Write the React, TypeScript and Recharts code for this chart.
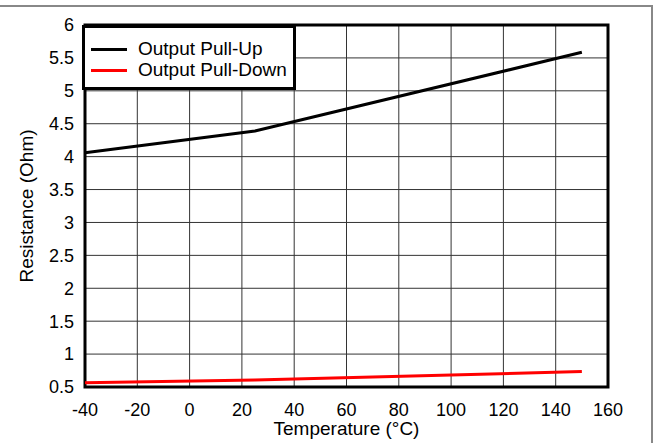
import React from 'react';
import { LineChart, Line, XAxis, YAxis, CartesianGrid, Legend, ReferenceArea } from 'recharts';

const temperatures = [-40, 25, 150];
const pullUp = [4.06, 4.39, 5.585];
const pullDown = [0.565, 0.605, 0.735];
const xTicks = [-40, -20, 0, 20, 40, 60, 80, 100, 120, 140, 160];
const yTicks = [0.5, 1, 1.5, 2, 2.5, 3, 3.5, 4, 4.5, 5, 5.5, 6];
const seriesNames = ['Output Pull-Up', 'Output Pull-Down'];
const seriesColors = ['#000000', '#ff0000'];

const data = temperatures.map((t, i) => ({ t, up: pullUp[i], down: pullDown[i] }));

const FONT = '"Liberation Sans", Arial, sans-serif';

const LegendBox = () => (
  <div
    style={{
      boxSizing: 'border-box',
      width: 214,
      height: 65,
      background: '#fff',
      border: '3px solid #000',
      fontFamily: FONT,
      fontSize: 19,
      color: '#000',
      position: 'relative',
    }}
  >
    {seriesNames.map((name, i) => (
      <div key={name} style={{ position: 'absolute', left: 6, top: 10 + i * 21, height: 22, display: 'flex', alignItems: 'center' }}>
        <div style={{ width: 36, height: 3, background: seriesColors[i] }} />
        <span style={{ marginLeft: 11, lineHeight: '22px', whiteSpace: 'nowrap' }}>{name}</span>
      </div>
    ))}
  </div>
);

export default function App() {
  return (
    <div style={{ position: 'absolute', left: 0, top: 0, width: 656, height: 443, background: '#fff' }}>
      <div style={{ position: 'absolute', left: 0, top: 5, width: 653, height: 2, background: '#888' }} />
      <div style={{ position: 'absolute', left: 651, top: 5, width: 2, height: 438, background: '#888' }} />
      <LineChart
        width={656}
        height={443}
        data={data}
        margin={{ top: 25, right: 48, bottom: 16, left: 25 }}
        style={{ fontFamily: FONT }}
      >
        <CartesianGrid stroke="#333" strokeWidth={1} horizontalValues={yTicks} verticalValues={xTicks} />
        <XAxis
          dataKey="t"
          type="number"
          domain={[-40, 160]}
          ticks={xTicks}
          height={40}
          axisLine={false}
          tickLine={false}
          tickMargin={10}
          tick={{ fill: '#000', fontSize: 18, fontFamily: FONT }}
          label={{ value: 'Temperature (°C)', position: 'insideBottom', offset: -8, fill: '#000', fontSize: 19, fontFamily: FONT }}
          interval={0}
        />
        <YAxis
          type="number"
          domain={[0.5, 6]}
          ticks={yTicks}
          width={60}
          axisLine={false}
          tickLine={false}
          tickMargin={5}
          tick={{ fill: '#000', fontSize: 18, fontFamily: FONT }}
          interval={0}
          allowDataOverflow
          label={{ value: 'Resistance (Ohm)', angle: -90, position: 'center', dx: -29, fill: '#000', fontSize: 19, fontFamily: FONT }}
        />
        <ReferenceArea x1={-40} x2={160} y1={0.5} y2={6} fill="none" stroke="#000" strokeWidth={3} ifOverflow="visible" />
        <Line dataKey="up" name={seriesNames[0]} stroke={seriesColors[0]} strokeWidth={3} dot={false} isAnimationActive={false} />
        <Line dataKey="down" name={seriesNames[1]} stroke={seriesColors[1]} strokeWidth={3} dot={false} isAnimationActive={false} />
        <Legend
          content={() => <LegendBox />}
          wrapperStyle={{ left: 82, top: 25, width: 214, height: 65, bottom: 'auto', right: 'auto' }}
          verticalAlign="middle"
          align="center"
          layout="horizontal"
        />
      </LineChart>
    </div>
  );
}
